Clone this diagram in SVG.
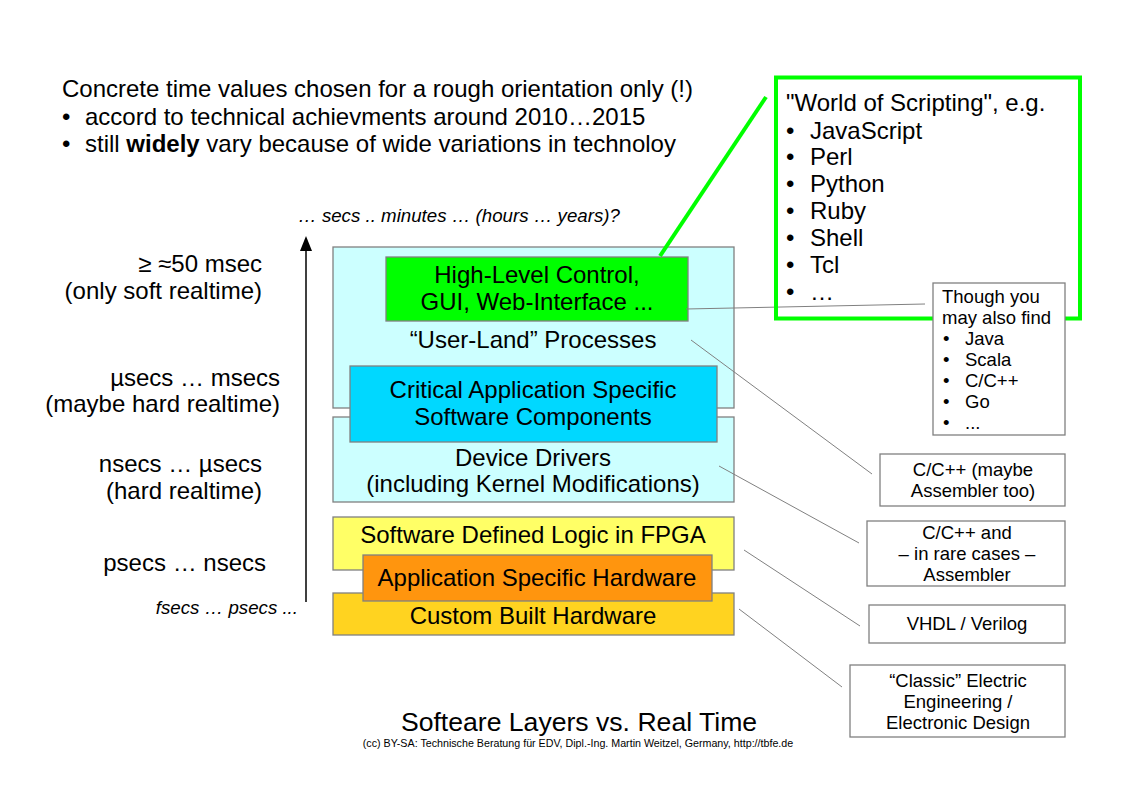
<svg xmlns="http://www.w3.org/2000/svg" width="1123" height="794" viewBox="0 0 1123 794">
<defs>
<style>
text{font-family:"Liberation Sans",Arial,sans-serif;fill:#000}
.t20{font-size:24px}
.t16{font-size:18.5px}
.it{font-size:18.7px;font-style:italic}
.c{text-anchor:middle}
.r{text-anchor:end}
.box{stroke:#808080;stroke-width:1.3}
.con{stroke:#808080;stroke-width:1;fill:none}
</style>
</defs>
<rect width="1123" height="794" fill="#fff"/>

<g id="header">
<text class="t20" x="62" y="97">Concrete time values chosen for a rough orientation only (!)</text>
<text class="t20" x="62" y="125">•</text><text class="t20" x="85" y="125">accord to technical achievments around 2010…2015</text>
<text class="t20" x="62" y="152">•</text><text class="t20" x="85" y="152">still <tspan font-weight="bold">widely</tspan> vary because of wide variations in technoloy</text>
</g>

<g id="time-axis">
<line x1="306" y1="602" x2="306" y2="248" stroke="#000" stroke-width="1.5"/>
<path d="M306,236 L312,251 L300,251 Z" fill="#000"/>
<text class="it" x="298" y="222">… secs .. minutes … (hours … years)?</text>
<text class="it r" x="298" y="614">fsecs … psecs ...</text>
<text class="t20 r" x="262" y="272">≥ ≈50 msec</text>
<text class="t20 r" x="262" y="299">(only soft realtime)</text>
<text class="t20 r" x="280" y="386">µsecs … msecs</text>
<text class="t20 r" x="280" y="412">(maybe hard realtime)</text>
<text class="t20 r" x="262" y="472">nsecs … µsecs</text>
<text class="t20 r" x="262" y="499">(hard realtime)</text>
<text class="t20 r" x="266" y="571">psecs … nsecs</text>
</g>

<g id="user-land">
<rect class="box" x="333" y="247" width="401" height="161" fill="#ccffff"/>
<text class="t20 c" x="533" y="348">“User-Land” Processes</text>
</g>
<g id="device-drivers">
<rect class="box" x="333" y="417" width="401" height="85" fill="#ccffff"/>
<text class="t20 c" x="533" y="466">Device Drivers</text>
<text class="t20 c" x="533" y="492">(including Kernel Modifications)</text>
</g>
<g id="high-level">
<rect class="box" x="386" y="257" width="302" height="64" fill="#00ff00"/>
<text class="t20 c" x="537" y="283">High-Level Control,</text>
<text class="t20 c" x="537" y="310">GUI, Web-Interface ...</text>
</g>
<g id="critical">
<rect class="box" x="350" y="366" width="367" height="76" fill="#00d8ff"/>
<text class="t20 c" x="533" y="398">Critical Application Specific</text>
<text class="t20 c" x="533" y="425">Software Components</text>
</g>
<g id="fpga">
<rect class="box" x="333" y="517" width="401" height="53" fill="#ffff66"/>
<text class="t20 c" x="533" y="543">Software Defined Logic in FPGA</text>
</g>
<g id="custom-hw">
<rect class="box" x="333" y="593" width="401" height="42" fill="#ffd320"/>
<text class="t20 c" x="533" y="624">Custom Built Hardware</text>
</g>
<g id="app-hw">
<rect class="box" x="363" y="555" width="349" height="46" fill="#ff950e"/>
<text class="t20 c" x="537" y="586">Application Specific Hardware</text>
</g>

<g id="connectors">
<line x1="660" y1="256" x2="766" y2="97" stroke="#00ff00" stroke-width="4"/>
<polyline class="con" points="686,309 925,304"/>
<line class="con" x1="691" y1="340" x2="872" y2="474"/>
<line class="con" x1="719" y1="466" x2="859" y2="543"/>
<line class="con" x1="744" y1="550" x2="860" y2="626"/>
<line class="con" x1="739" y1="609" x2="842" y2="687"/>
</g>

<g id="scripting">
<rect x="776" y="77.5" width="304" height="241" fill="none" stroke="#00ff00" stroke-width="4"/>
<text class="t20" x="786" y="111">"World of Scripting", e.g.</text>
<text class="t20" x="786" y="139">•</text><text class="t20" x="810" y="139">JavaScript</text>
<text class="t20" x="786" y="165">•</text><text class="t20" x="810" y="165">Perl</text>
<text class="t20" x="786" y="192">•</text><text class="t20" x="810" y="192">Python</text>
<text class="t20" x="786" y="219">•</text><text class="t20" x="810" y="219">Ruby</text>
<text class="t20" x="786" y="246">•</text><text class="t20" x="810" y="246">Shell</text>
<text class="t20" x="786" y="273">•</text><text class="t20" x="810" y="273">Tcl</text>
<text class="t20" x="786" y="300">•</text><text class="t20" x="810" y="300">…</text>
</g>

<g id="though">
<rect class="box" x="933" y="283" width="132" height="152" fill="#fff"/>
<text class="t16" x="942" y="303">Though you</text>
<text class="t16" x="942" y="324">may also find</text>
<text class="t16" x="943" y="345">•</text><text class="t16" x="965" y="345">Java</text>
<text class="t16" x="943" y="366">•</text><text class="t16" x="965" y="366">Scala</text>
<text class="t16" x="943" y="387">•</text><text class="t16" x="965" y="387">C/C++</text>
<text class="t16" x="943" y="408">•</text><text class="t16" x="965" y="408">Go</text>
<text class="t16" x="943" y="429">•</text><text class="t16" x="965" y="429">...</text>
</g>

<g id="lang-userland">
<rect class="box" x="880" y="454" width="185" height="52" fill="#fff"/>
<text class="t16 c" x="973" y="476">C/C++ (maybe</text>
<text class="t16 c" x="973" y="497">Assembler too)</text>
</g>
<g id="lang-drivers">
<rect class="box" x="867" y="521" width="198" height="65" fill="#fff"/>
<text class="t16 c" x="967" y="539">C/C++ and</text>
<text class="t16 c" x="967" y="560">– in rare cases –</text>
<text class="t16 c" x="967" y="581">Assembler</text>
</g>
<g id="lang-fpga">
<rect class="box" x="869" y="605" width="196" height="38" fill="#fff"/>
<text class="t16 c" x="967" y="630">VHDL / Verilog</text>
</g>
<g id="lang-hw">
<rect class="box" x="850" y="665" width="215" height="72" fill="#fff"/>
<text class="t16 c" x="958" y="687">“Classic” Electric</text>
<text class="t16 c" x="958" y="708">Engineering /</text>
<text class="t16 c" x="958" y="729">Electronic Design</text>
</g>

<g id="title">
<text class="c" x="579" y="731" font-size="26.6">Softeare Layers vs. Real Time</text>
<text class="c" x="578" y="747" font-size="10.7">(cc) BY-SA: Technische Beratung für EDV, Dipl.-Ing. Martin Weitzel, Germany, http://tbfe.de</text>
</g>
</svg>
